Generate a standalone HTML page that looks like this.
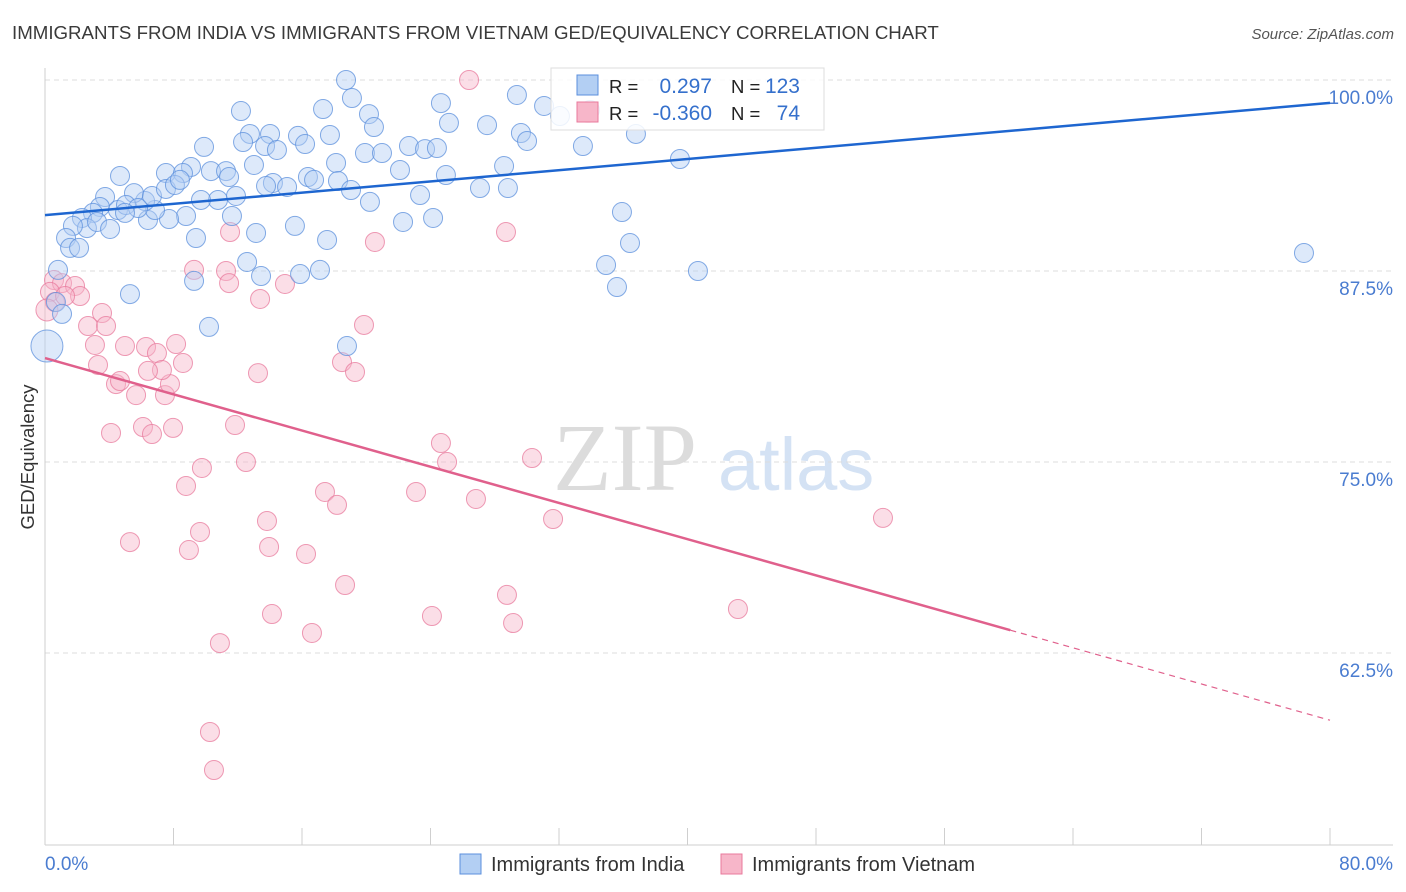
<!DOCTYPE html>
<html><head><meta charset="utf-8"><style>
body{margin:0;background:#fff;font-family:"Liberation Sans",sans-serif;}
#wrap{position:relative;width:1406px;height:892px;overflow:hidden;}
svg{position:absolute;left:0;top:0;}
</style></head><body>
<div id="wrap">
<svg id="chart" width="1406" height="892"></svg>
</div>
<script>
const indiaX=[18.74,19.11,12.20,17.31,20.17,20.48,24.65,29.38,31.07,25.15,27.52,29.63,30.01,33.49,36.79,39.53,12.76,12.33,14.01,15.75,13.70,14.44,16.19,17.74,19.92,20.98,22.66,23.66,24.40,22.10,24.96,28.58,9.90,9.09,7.53,8.59,10.33,11.27,11.46,13.01,14.19,15.07,13.76,16.37,16.75,18.12,18.24,19.05,20.23,23.35,27.08,28.82,22.29,24.16,35.92,36.42,15.56,17.56,13.14,9.40,11.64,10.77,9.71,8.78,7.72,6.41,6.85,6.23,5.54,6.66,7.53,8.09,8.40,11.89,4.67,3.74,3.42,2.99,2.30,2.61,3.24,4.05,4.54,5.04,5.79,4.98,1.74,1.31,1.56,2.12,0.81,0.68,1.06,0.12,5.29,10.21,9.28,12.58,13.45,15.88,17.12,18.80,34.93,35.61,40.65,78.38,32.06,33.93];
const indiaY=[100,98.82,97.97,98.10,97.77,96.92,98.49,99.02,98.30,97.19,97.05,96.53,96.01,95.68,96.47,94.83,96.47,95.94,96.47,96.34,95.68,95.42,95.81,96.40,95.22,95.22,95.68,95.48,95.55,94.11,93.78,94.37,95.62,94.31,93.91,93.91,94.04,94.04,93.65,94.44,93.26,93.00,93.06,93.65,93.46,94.57,93.39,92.80,92.02,92.47,92.93,92.93,90.71,90.97,91.36,89.33,90.45,89.53,89.99,89.66,91.10,92.15,92.15,91.10,90.90,90.84,91.49,92.08,92.60,92.41,92.87,93.13,93.46,92.41,93.72,92.34,91.69,91.30,90.97,90.31,90.71,90.25,91.49,91.82,91.62,91.30,90.45,89.66,89.01,89.01,87.57,85.47,84.69,82.59,85.99,83.84,86.85,88.09,87.17,87.30,87.57,82.59,87.89,86.45,87.50,88.68,97.64,98.04];
const vietX=[26.40,0.56,1.06,1.87,0.31,0.62,0.12,2.18,1.25,3.55,2.68,3.80,3.11,3.30,4.42,4.98,4.67,5.67,6.29,6.97,7.47,7.78,8.16,8.59,7.28,6.41,6.10,6.66,7.97,4.11,9.28,11.27,11.46,13.39,14.94,11.52,20.54,28.70,19.86,18.49,19.30,13.26,11.83,9.77,8.78,12.51,5.29,8.96,9.65,13.82,13.95,16.25,17.43,18.18,23.10,24.65,25.03,26.83,30.32,31.63,18.68,14.13,16.62,10.89,24.09,28.76,29.14,43.14,52.17,10.27,10.52,33.80];
const vietY=[100,86.91,86.71,86.52,86.13,85.47,84.95,85.86,85.86,84.75,83.90,83.90,82.66,81.35,80.10,82.59,80.30,79.38,82.53,82.13,79.38,80.10,82.72,81.48,81.02,80.96,77.29,76.83,77.23,76.90,87.57,87.50,86.71,85.67,86.65,90.05,89.40,90.05,83.97,81.54,80.89,80.82,77.42,74.61,73.43,75.00,69.76,69.24,70.42,71.14,69.44,68.98,73.04,72.19,73.04,76.24,75.00,72.58,75.26,71.27,66.95,65.05,63.81,63.15,64.92,66.30,64.46,65.38,71.34,57.33,54.84,97.84];
const yTicks=[100,87.5,75,62.5];
const yTickLabels=["100.0%","87.5%","75.0%","62.5%"];
const indiaTrend=[91.16,98.5];
const vietTrend=[81.8,58.1];
const vietSolidEnd=60.1;

const NS="http://www.w3.org/2000/svg";
const svg=document.getElementById('chart');
const X0=45,X1=1330,Y100=80,PX_PER_PCT=191/12.5;
function sx(v){return X0+(v/80)*(X1-X0);}
function sy(v){return Y100+(100-v)*PX_PER_PCT;}
function mk(tag,attrs,parent){const e=document.createElementNS(NS,tag);for(const k in attrs)e.setAttribute(k,attrs[k]);(parent||svg).appendChild(e);return e;}
function txt(s,attrs,parent){const e=mk('text',attrs,parent);e.textContent=s;return e;}

let t=txt("IMMIGRANTS FROM INDIA VS IMMIGRANTS FROM VIETNAM GED/EQUIVALENCY CORRELATION CHART",{x:12,y:39,'font-size':18.7,fill:'#3a3a3a'});

t=txt("Source: ZipAtlas.com",{x:1394,y:39,'font-size':15,fill:'#555','font-style':'italic','text-anchor':'end'});


const wm=mk('g',{});

txt("ZIP",{x:553,y:490,'font-size':96,fill:'#dcdcdc','font-family':'Liberation Serif, serif'},wm);
txt("atlas",{x:718,y:490,'font-size':74,fill:'#d4e2f4'},wm);

yTicks.forEach((v,i)=>{
 const g=mk('line',{x1:X0,x2:1393,y1:sy(v),y2:sy(v),stroke:'#dcdcdc','stroke-dasharray':'5,4','stroke-width':1});
 
 const l=txt(yTickLabels[i],{x:1393,y:sy(v)+24,'font-size':19,fill:'#4a7cd0','text-anchor':'end'});
 
});
let a=mk('line',{x1:X0,x2:X0,y1:68,y2:845,stroke:'#cfcfcf'});

a=mk('line',{x1:X0,x2:1393,y1:845,y2:845,stroke:'#cfcfcf'});

for(let i=0;i<=10;i++){
 const tk=mk('line',{x1:sx(i*8),x2:sx(i*8),y1:828,y2:845,stroke:'#cfcfcf'});
 
}
t=txt("0.0%",{x:45,y:870,'font-size':19,fill:'#4a7cd0'});

t=txt("80.0%",{x:1393,y:870,'font-size':19,fill:'#4a7cd0','text-anchor':'end'});

t=txt("GED/Equivalency",{x:34,y:457,'font-size':18.5,fill:'#333','text-anchor':'middle',transform:'rotate(-90 34 457)'});


function pts(xs,ys,fill,stroke,name){
 const g=mk('g',{});
 
 xs.forEach((x,i)=>{
  const r=(x<0.5&&name==='india')?16:(x<0.2?11:9.5);
  const c=mk('circle',{cx:sx(x),cy:sy(ys[i]),r:r,fill:fill,'fill-opacity':0.45,stroke:stroke,'stroke-opacity':0.75,'stroke-width':1});
  g.appendChild(c);
  
  
 });
}
pts(vietX,vietY,'#f7b6c9','#e8799c','vietnam');
pts(indiaX,indiaY,'#b3cff3','#5b8fdc','india');

let ln=mk('line',{x1:sx(0),y1:sy(indiaTrend[0]),x2:sx(80),y2:sy(indiaTrend[1]),stroke:'#1e66d0','stroke-width':2.5});

const vAt=x=>vietTrend[0]+(vietTrend[1]-vietTrend[0])*x/80;
ln=mk('line',{x1:sx(0),y1:sy(vietTrend[0]),x2:sx(vietSolidEnd),y2:sy(vAt(vietSolidEnd)),stroke:'#e0608c','stroke-width':2.5});

ln=mk('line',{x1:sx(vietSolidEnd),y1:sy(vAt(vietSolidEnd)),x2:sx(80),y2:sy(vietTrend[1]),stroke:'#e0608c','stroke-width':1.2,'stroke-dasharray':'6,5'});


const lg=mk('g',{});

mk('rect',{x:551,y:68,width:273,height:62,fill:'#fff','fill-opacity':0.85,stroke:'#ddd'},lg);
mk('rect',{x:577,y:75,width:21,height:20,fill:'#b3cff3',stroke:'#5b8fdc'},lg);
mk('rect',{x:577,y:102,width:21,height:20,fill:'#f7b6c9',stroke:'#e8799c'},lg);
txt("R =",{x:609,y:93,'font-size':18.5,fill:'#222'},lg);
txt("0.297",{x:712,y:93,'font-size':21,fill:'#3570cc','text-anchor':'end'},lg);
txt("N =",{x:731,y:93,'font-size':18.5,fill:'#222'},lg);
txt("123",{x:800,y:93,'font-size':21,fill:'#3570cc','text-anchor':'end'},lg);
txt("R =",{x:609,y:120,'font-size':18.5,fill:'#222'},lg);
txt("-0.360",{x:712,y:120,'font-size':21,fill:'#3570cc','text-anchor':'end'},lg);
txt("N =",{x:731,y:120,'font-size':18.5,fill:'#222'},lg);
txt("74",{x:800,y:120,'font-size':21,fill:'#3570cc','text-anchor':'end'},lg);

const bl=mk('g',{});

let r=mk('rect',{x:460,y:854,width:21,height:20,fill:'#b3cff3',stroke:'#5b8fdc'},bl);

txt("Immigrants from India",{x:491,y:871,'font-size':20,fill:'#333'},bl);
r=mk('rect',{x:721,y:854,width:21,height:20,fill:'#f7b6c9',stroke:'#e8799c'},bl);

txt("Immigrants from Vietnam",{x:752,y:871,'font-size':20,fill:'#333'},bl);
</script>
</body></html>
